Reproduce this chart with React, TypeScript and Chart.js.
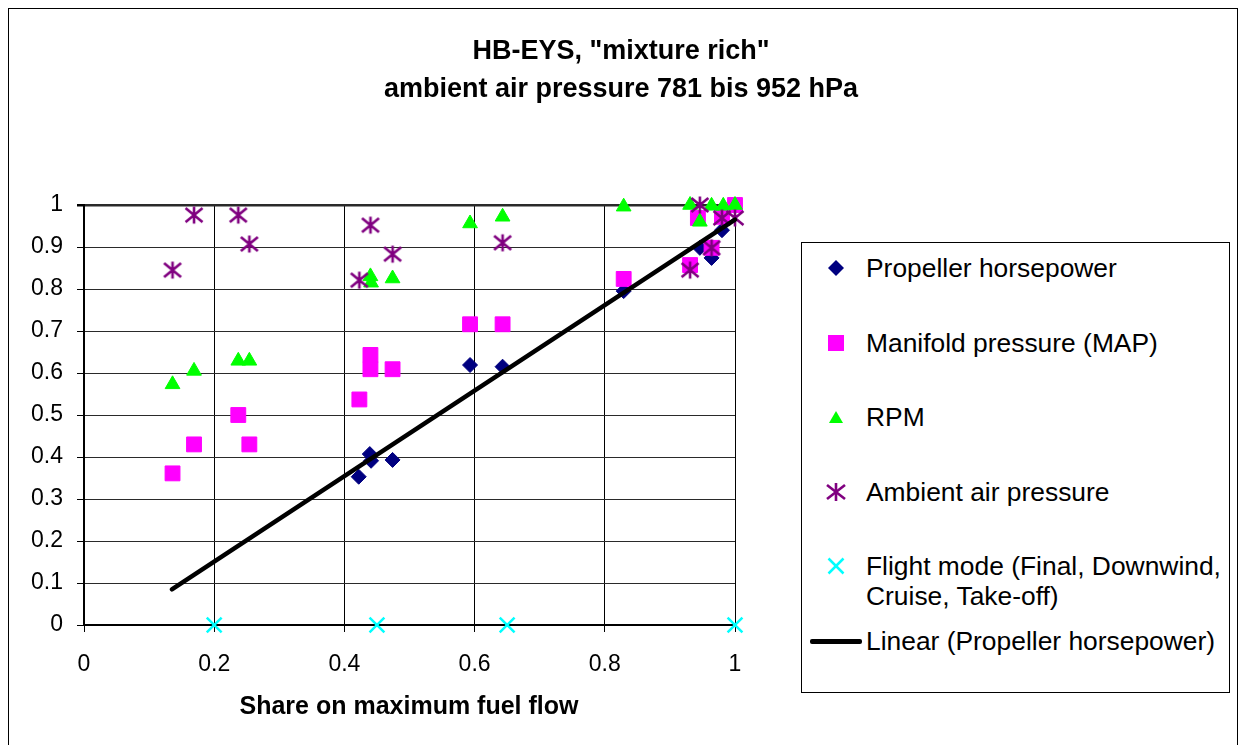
import React, { useEffect, useRef } from "react";
import { Chart, registerables } from "chart.js";
Chart.register(...registerables);

// ---- data ----
const propX = [0.422, 0.439, 0.441, 0.474, 0.593, 0.643, 0.829, 0.946, 0.964, 0.98];
const propY = [0.353, 0.407, 0.391, 0.393, 0.619, 0.615, 0.795, 0.898, 0.874, 0.94];
const mapX = [0.136, 0.169, 0.237, 0.254, 0.423, 0.44, 0.44, 0.474, 0.593, 0.643, 0.829, 0.931, 0.943, 0.964, 0.98, 1.0];
const mapY = [0.361, 0.43, 0.5, 0.43, 0.537, 0.643, 0.609, 0.609, 0.716, 0.716, 0.824, 0.857, 0.969, 0.898, 0.972, 1.0];
const rpmX = [0.136, 0.169, 0.237, 0.254, 0.44, 0.441, 0.474, 0.593, 0.643, 0.829, 0.931, 0.946, 0.964, 0.982, 1.0];
const rpmY = [0.573, 0.605, 0.629, 0.629, 0.83, 0.815, 0.825, 0.956, 0.972, 0.996, 1.0, 0.96, 0.998, 0.998, 1.0];
const ambX = [0.136, 0.169, 0.237, 0.254, 0.423, 0.44, 0.474, 0.643, 0.931, 0.946, 0.964, 0.98, 1.0];
const ambY = [0.845, 0.976, 0.976, 0.907, 0.821, 0.952, 0.883, 0.91, 0.845, 1.0, 0.898, 0.969, 0.969];
const modeX = [0.2, 0.45, 0.65, 1.0];
const modeY = [0, 0, 0, 0];
const trendX = [0.135, 1.0];
const trendY = [0.085, 0.965];

const titleLines = ['HB-EYS, "mixture rich"', "ambient air pressure 781 bis 952 hPa"];
const xTitle = "Share on maximum fuel flow";
const legendLabels = [
  "Propeller horsepower",
  "Manifold pressure (MAP)",
  "RPM",
  "Ambient air pressure",
  "Flight mode (Final, Downwind, Cruise, Take-off)",
  "Linear (Propeller horsepower)",
];

const NAVY = "#000080";
const MAGENTA = "#FF00FF";
const GREEN = "#00FF00";
const PURPLE = "#800080";
const CYAN = "#00FFFF";

const FONT = '"Liberation Sans", Arial, sans-serif';

function pts(xs: number[], ys: number[]) {
  return xs.map((x, i) => ({ x, y: ys[i] }));
}

function makeAsterisk(): HTMLCanvasElement {
  const c = document.createElement("canvas");
  c.width = 22;
  c.height = 22;
  const g = c.getContext("2d")!;
  g.strokeStyle = PURPLE;
  g.lineWidth = 2.6;
  g.beginPath();
  g.moveTo(11, 2.5);
  g.lineTo(11, 19.5);
  g.moveTo(2.5, 4);
  g.lineTo(19.5, 18);
  g.moveTo(19.5, 4);
  g.lineTo(2.5, 18);
  g.stroke();
  return c;
}

function ChartCanvas() {
  const ref = useRef<HTMLCanvasElement | null>(null);
  useEffect(() => {
    if (!ref.current) return;
    const star = makeAsterisk();
    const tickFont = { family: FONT, size: 23 };
    const chart = new Chart(ref.current, {
      type: "scatter",
      data: {
        datasets: [
          {
            label: "Linear (Propeller horsepower)",
            data: pts(trendX, trendY),
            showLine: true,
            borderColor: "#000",
            borderWidth: 4.5,
            borderCapStyle: "round",
            pointRadius: 0,
            clip: false,
            order: 0,
          } as any,
          {
            label: "Propeller horsepower",
            data: pts(propX, propY),
            pointStyle: "rectRot",
            pointRadius: 7.5,
            backgroundColor: NAVY,
            borderColor: NAVY,
            borderWidth: 1,
            clip: false,
            order: 5,
          },
          {
            label: "Manifold pressure (MAP)",
            data: pts(mapX, mapY),
            pointStyle: "rect",
            pointRadius: 10.5,
            backgroundColor: MAGENTA,
            borderColor: MAGENTA,
            borderWidth: 1,
            clip: false,
            order: 4,
          },
          {
            label: "RPM",
            data: pts(rpmX, rpmY),
            pointStyle: "triangle",
            pointRadius: 8.5,
            backgroundColor: GREEN,
            borderColor: GREEN,
            borderWidth: 1,
            clip: false,
            order: 3,
          },
          {
            label: "Ambient air pressure",
            data: pts(ambX, ambY),
            pointStyle: star,
            pointRadius: 11,
            backgroundColor: PURPLE,
            borderColor: PURPLE,
            clip: false,
            order: 2,
          },
          {
            label: "Flight mode",
            data: pts(modeX, modeY),
            pointStyle: "crossRot",
            pointRadius: 10.5,
            borderColor: CYAN,
            backgroundColor: CYAN,
            borderWidth: 2.5,
            clip: false,
            order: 1,
          },
        ],
      },
      options: {
        animation: false,
        responsive: false,
        events: [],
        layout: { padding: { left: 15, right: 502, top: 196, bottom: 64 } },
        plugins: { legend: { display: false }, title: { display: false }, tooltip: { enabled: false } },
        scales: {
          x: {
            type: "linear",
            min: 0,
            max: 1,
            afterFit: (s: any) => {
              s.height = 60;
            },
            ticks: {
              stepSize: 0.2,
              color: "#000",
              font: tickFont,
              padding: 19,
              maxRotation: 0,
              callback: (v: any) => String(Math.round(Number(v) * 10) / 10),
            },
            grid: { color: "#000", lineWidth: 1, tickLength: 7, tickColor: "#000" },
            border: { display: true, color: "#000", width: 2 },
          },
          y: {
            type: "linear",
            min: 0,
            max: 1,
            afterFit: (s: any) => {
              s.width = 60;
            },
            ticks: {
              stepSize: 0.1,
              color: "#000",
              font: tickFont,
              padding: 14,
              callback: (v: any) => String(Math.round(Number(v) * 10) / 10),
            },
            grid: {
              color: "#2a2a2a",
              lineWidth: (ctx: any) => (ctx.tick && ctx.tick.value === 1 ? 2.5 : 1),
              tickLength: 7,
              tickColor: "#000",
            },
            border: { display: true, color: "#000", width: 2 },
          },
        },
      },
    });
    return () => chart.destroy();
  }, []);
  return (
    <canvas
      ref={ref}
      width={1228}
      height={740}
      style={{ position: "absolute", left: 0, top: 0, width: 1228, height: 740 }}
    />
  );
}

function Marker({ i }: { i: number }) {
  const s = 24;
  if (i === 0)
    return (
      <svg width={s} height={s}>
        <polygon points="12,4 20,12 12,20 4,12" fill={NAVY} />
      </svg>
    );
  if (i === 1)
    return (
      <svg width={s} height={s}>
        <rect x={4} y={4} width={16} height={16} fill={MAGENTA} />
      </svg>
    );
  if (i === 2)
    return (
      <svg width={s} height={s}>
        <polygon points="12,6 19,18 5,18" fill={GREEN} />
      </svg>
    );
  if (i === 3)
    return (
      <svg width={s} height={s}>
        <g stroke={PURPLE} strokeWidth={2.6}>
          <line x1={12} y1={3} x2={12} y2={21} />
          <line x1={3} y1={5} x2={21} y2={19} />
          <line x1={21} y1={5} x2={3} y2={19} />
        </g>
      </svg>
    );
  if (i === 4)
    return (
      <svg width={s} height={s}>
        <g stroke={CYAN} strokeWidth={2.5}>
          <line x1={4.5} y1={4.5} x2={19.5} y2={19.5} />
          <line x1={19.5} y1={4.5} x2={4.5} y2={19.5} />
        </g>
      </svg>
    );
  return null;
}

function Legend() {
  const centers = [25, 100, 174, 249, 338, 398];
  return (
    <div
      style={{
        position: "absolute",
        left: 792,
        top: 233,
        width: 427,
        height: 449,
        border: "1px solid #000",
        background: "#fff",
        fontFamily: FONT,
        fontSize: 26.4,
        color: "#000",
      }}
    >
      {legendLabels.map((lab, i) => {
        const twoLine = i === 4;
        const lh = 30;
        const h = twoLine ? lh * 2 : lh;
        return (
          <div key={i} style={{ position: "absolute", left: 0, top: centers[i] - h / 2, width: 427, height: h }}>
            {i < 5 ? (
              <div style={{ position: "absolute", left: 22, top: (twoLine ? lh / 2 : h / 2) - 12 }}>
                <Marker i={i} />
              </div>
            ) : (
              <div style={{ position: "absolute", left: 8, top: h / 2 - 2, width: 52, height: 4.5, background: "#000", borderRadius: 2 }} />
            )}
            <div style={{ position: "absolute", left: 64, top: 0, width: 362, lineHeight: lh + "px", whiteSpace: "nowrap" }}>
              {twoLine ? (
                <>
                  Flight mode (Final, Downwind,
                  <br />
                  Cruise, Take-off)
                </>
              ) : (
                lab
              )}
            </div>
          </div>
        );
      })}
    </div>
  );
}

export default function App() {
  return (
    <div
      style={{
        position: "relative",
        width: 1228,
        height: 740,
        border: "1px solid #000",
        borderBottom: "none",
        background: "#fff",
        fontFamily: FONT,
        overflow: "hidden",
      }}
    >
      <ChartCanvas />
      <div
        style={{
          position: "absolute",
          left: -2,
          top: 22,
          width: 1228,
          textAlign: "center",
          fontWeight: "bold",
          fontSize: 27,
          lineHeight: "38px",
          color: "#000",
        }}
      >
        {titleLines[0]}
        <br />
        {titleLines[1]}
      </div>
      <div
        style={{
          position: "absolute",
          left: 100,
          top: 681,
          width: 600,
          textAlign: "center",
          fontWeight: "bold",
          fontSize: 25,
          lineHeight: "30px",
          color: "#000",
        }}
      >
        {xTitle}
      </div>
      <Legend />
    </div>
  );
}
